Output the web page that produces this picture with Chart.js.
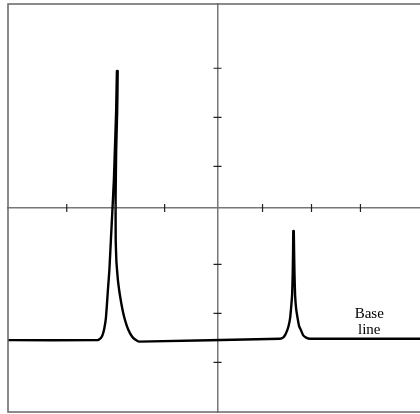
<!DOCTYPE html>
<html>
<head>
<meta charset="utf-8">
<script src="https://cdn.jsdelivr.net/npm/chart.js@4/dist/chart.umd.min.js"></script>
<style>
  html, body { margin: 0; padding: 0; background: #fff; overflow: hidden; }
  #wrap { width: 420px; height: 414px; overflow: hidden; }
</style>
</head>
<body>
<div id="wrap"><canvas id="myChart" width="440" height="414"></canvas></div>
<script>
// trace, in axis divisions (origin where the axes cross)
var traceX = [-4.28, -2.444, -2.382, -2.342, -2.311, -2.280, -2.260, -2.239, -2.209, -2.178, -2.147, -2.117, -2.090, -2.070, -2.055,
              -2.039, -2.049, -2.070, -2.082, -2.080, -2.065, -2.035, -2.004, -1.963, -1.912, -1.851, -1.789, -1.728, -1.667, -1.605,
              1.278, 1.339, 1.380, 1.421, 1.452, 1.483, 1.503, 1.524, 1.536, 1.544, 1.548,
              1.558, 1.564, 1.573, 1.585, 1.605, 1.636, 1.667, 1.708, 1.748, 1.810, 1.892, 4.30];
var traceY = [-2.694, -2.694, -2.653, -2.571, -2.449, -2.245, -1.980, -1.673, -1.265, -0.653, -0.041, 0.571, 1.388, 2.000, 2.796,
              2.796, 2.000, 1.184, 0.163, -0.653, -1.102, -1.469, -1.714, -1.959, -2.204, -2.408, -2.551, -2.643, -2.694, -2.724,
              -2.665, -2.643, -2.592, -2.500, -2.408, -2.245, -2.041, -1.776, -1.367, -0.857, -0.469,
              -0.469, -0.857, -1.367, -1.776, -2.041, -2.245, -2.408, -2.500, -2.592, -2.643, -2.665, -2.665];
var xTicks = [-3.08, -2.08, -1.08, 0.92, 1.92, 2.92];
var yTicks = [2.85, 1.85, 0.85, -1.15, -2.15, -3.15];
var labelLines = ['Base', 'line'];
var labelX = 3.10;
var labelY = [-2.24, -2.57];

var points = traceX.map(function(x, i) { return { x: x, y: traceY[i] }; });

var frameAndTicks = {
    id: 'frameAndTicks',
    afterDraw: function(chart) {
        var ctx = chart.ctx;
        var a = chart.chartArea;
        var xs = chart.scales.x, ys = chart.scales.y;
        var x0 = xs.getPixelForValue(0), y0 = ys.getPixelForValue(0);
        ctx.save();
        ctx.strokeStyle = '#666';
        ctx.lineWidth = 1.5;
        ctx.strokeRect(a.left, a.top, a.right - a.left, a.bottom - a.top);
        ctx.strokeStyle = '#222';
        ctx.lineWidth = 1.2;
        ctx.beginPath();
        xTicks.forEach(function(v) {
            var p = xs.getPixelForValue(v);
            ctx.moveTo(p, y0 - 4);
            ctx.lineTo(p, y0 + 4);
        });
        yTicks.forEach(function(v) {
            var p = ys.getPixelForValue(v);
            ctx.moveTo(x0 - 4, p);
            ctx.lineTo(x0 + 4, p);
        });
        ctx.stroke();
        ctx.fillStyle = '#000';
        ctx.font = '15px "Liberation Serif", "DejaVu Serif", serif';
        ctx.textAlign = 'center';
        ctx.textBaseline = 'alphabetic';
        labelLines.forEach(function(t, i) {
            ctx.fillText(t, xs.getPixelForValue(labelX), ys.getPixelForValue(labelY[i]));
        });
        ctx.restore();
    }
};

var ctx = document.getElementById('myChart');
var myChart = new Chart(ctx, {
    type: 'scatter',
    data: {
        datasets: [{
            data: points,
            showLine: true,
            borderColor: '#000',
            borderWidth: 2.4,
            pointRadius: 0,
            tension: 0.1,
            fill: false
        }]
    },
    options: {
        responsive: false,
        animation: false,
        layout: { padding: { left: 8, top: 4, right: 12, bottom: 2 } },
        plugins: { legend: { display: false }, tooltip: { enabled: false } },
        scales: {
            x: {
                type: 'linear', min: -4.28, max: 4.30,
                position: { y: 0 },
                grid: { display: false },
                ticks: { display: false },
                border: { display: true, color: '#777', width: 1.5 }
            },
            y: {
                type: 'linear', min: -4.16, max: 4.16,
                position: { x: 0 },
                grid: { display: false },
                ticks: { display: false },
                border: { display: true, color: '#777', width: 1.5 }
            }
        }
    },
    plugins: [frameAndTicks]
});
</script>
</body>
</html>
